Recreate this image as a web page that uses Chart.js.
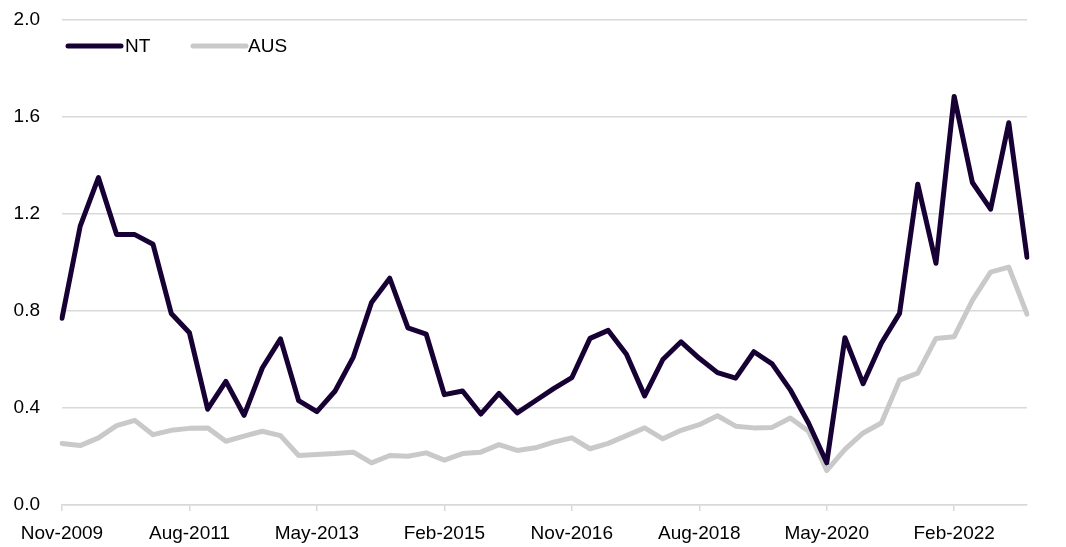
<!DOCTYPE html>
<html>
<head>
<meta charset="utf-8">
<script src="https://cdn.jsdelivr.net/npm/chart.js@4/dist/chart.umd.min.js"></script>
<style>
  html, body { margin: 0; padding: 0; background: #ffffff; }
  #wrap { width: 1066px; height: 547px; position: relative; }
</style>
</head>
<body>
<div id="wrap"><canvas id="c" width="1066" height="547"></canvas></div>
<script>
const quarters = [
  "Nov-2009","Feb-2010","May-2010","Aug-2010","Nov-2010","Feb-2011","May-2011","Aug-2011",
  "Nov-2011","Feb-2012","May-2012","Aug-2012","Nov-2012","Feb-2013","May-2013","Aug-2013",
  "Nov-2013","Feb-2014","May-2014","Aug-2014","Nov-2014","Feb-2015","May-2015","Aug-2015",
  "Nov-2015","Feb-2016","May-2016","Aug-2016","Nov-2016","Feb-2017","May-2017","Aug-2017",
  "Nov-2017","Feb-2018","May-2018","Aug-2018","Nov-2018","Feb-2019","May-2019","Aug-2019",
  "Nov-2019","Feb-2020","May-2020","Aug-2020","Nov-2020","Feb-2021","May-2021","Aug-2021",
  "Nov-2021","Feb-2022","May-2022","Aug-2022","Nov-2022","Feb-2023"
];
const shownTickLabels = ["Nov-2009","Aug-2011","May-2013","Feb-2015","Nov-2016","Aug-2018","May-2020","Feb-2022"];

const ntValues = [
  0.77, 1.15, 1.35, 1.115, 1.115, 1.075, 0.79, 0.71, 0.395, 0.51,
  0.37, 0.565, 0.685, 0.43, 0.385, 0.47, 0.61, 0.835, 0.935, 0.73,
  0.705, 0.455, 0.47, 0.375, 0.46, 0.38, 0.43, 0.48, 0.525, 0.687,
  0.72, 0.622, 0.45, 0.60, 0.673, 0.605, 0.546, 0.523, 0.632, 0.582,
  0.475, 0.338, 0.174, 0.69, 0.50, 0.667, 0.79, 1.323, 0.997, 1.685,
  1.33, 1.22, 1.576, 1.022
];
const ausValues = [
  0.254, 0.245, 0.277, 0.327, 0.349, 0.29, 0.308, 0.316, 0.318, 0.263,
  0.284, 0.304, 0.286, 0.204, 0.208, 0.212, 0.218, 0.174, 0.204, 0.201,
  0.215, 0.185, 0.212, 0.218, 0.249, 0.225, 0.236, 0.259, 0.277, 0.232,
  0.254, 0.286, 0.318, 0.273, 0.308, 0.331, 0.368, 0.325, 0.318, 0.32,
  0.359, 0.304, 0.142, 0.229, 0.297, 0.338, 0.515, 0.544, 0.687, 0.694,
  0.844, 0.96, 0.981, 0.787
];
const seriesNames = ["NT", "AUS"];
const yTicks = [0, 0.4, 0.8, 1.2, 1.6, 2.0];

const FONT = "'Liberation Sans', Arial, sans-serif";
const FONT_SIZE = 19;
const NT_COLOR = "#170034";
const AUS_COLOR = "#c9c9c9";
const GRID = "#d9d9d9";

const legendPlugin = {
  id: 'insideLegend',
  afterDraw(chart) {
    const ctx = chart.ctx;
    const items = [
      { x: 68, textX: 125 },
      { x: 193, textX: 248 }
    ];
    const y = 46;
    ctx.save();
    chart.data.datasets.forEach((ds, i) => {
      const it = items[i];
      ctx.strokeStyle = ds.borderColor;
      ctx.lineWidth = 5;
      ctx.lineCap = 'round';
      ctx.beginPath();
      ctx.moveTo(it.x, y);
      ctx.lineTo(it.x + 53, y);
      ctx.stroke();
      ctx.fillStyle = '#000';
      ctx.font = FONT_SIZE + 'px ' + FONT;
      ctx.textBaseline = 'middle';
      ctx.textAlign = 'left';
      ctx.fillText(ds.label, it.textX, y + 1);
    });
    ctx.restore();
  }
};

new Chart(document.getElementById('c'), {
  type: 'line',
  data: {
    labels: quarters,
    datasets: [
      {
        label: seriesNames[0],
        data: ntValues,
        borderColor: NT_COLOR,
        borderWidth: 5,
        pointRadius: 0,
        tension: 0,
        borderJoinStyle: 'round',
        borderCapStyle: 'round',
        order: 1
      },
      {
        label: seriesNames[1],
        data: ausValues,
        borderColor: AUS_COLOR,
        borderWidth: 5,
        pointRadius: 0,
        tension: 0,
        borderJoinStyle: 'round',
        borderCapStyle: 'round',
        order: 2
      }
    ]
  },
  options: {
    responsive: false,
    animation: false,
    layout: { padding: { left: 0, right: 39, top: 20, bottom: 0 } },
    plugins: {
      legend: { display: false },
      tooltip: { enabled: false }
    },
    scales: {
      x: {
        type: 'category',
        offset: false,
        grid: {
          display: true,
          drawOnChartArea: false,
          drawTicks: true,
          tickLength: 6,
          color: GRID,
          lineWidth: 1.5
        },
        border: { display: true, color: GRID, width: 1.5 },
        ticks: {
          autoSkip: false,
          maxRotation: 0,
          minRotation: 0,
          padding: 11,
          color: '#000',
          font: { family: FONT, size: FONT_SIZE },
          callback: function(value, index) {
            const lab = this.getLabelForValue(value);
            return shownTickLabels.includes(lab) ? lab : null;
          }
        },
        afterFit(scale) { scale.height = 42; }
      },
      y: {
        min: 0,
        max: 2,
        afterBuildTicks(scale) { scale.ticks = yTicks.map(v => ({ value: v })); },
        grid: {
          color: GRID,
          lineWidth: 1.5,
          drawTicks: true,
          tickLength: 22,
          tickColor: 'rgba(0,0,0,0)'
        },
        border: { display: false },
        ticks: {
          padding: 0,
          color: '#000',
          font: { family: FONT, size: FONT_SIZE },
          callback: (v) => Number(v).toFixed(1)
        },
        afterFit(scale) { scale.width = 62; }
      }
    }
  },
  plugins: [legendPlugin]
});
</script>
</body>
</html>
